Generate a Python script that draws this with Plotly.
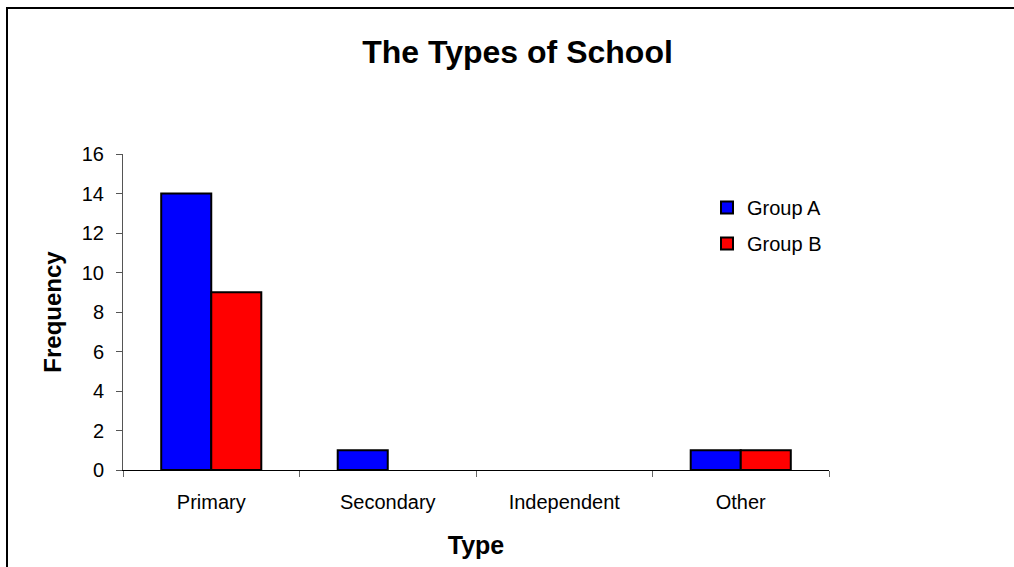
import plotly.graph_objects as go

categories = ["Primary", "Secondary", "Independent", "Other"]
group_a = [14, 1, 0, 1]
group_b = [9, 0, 0, 1]
y_ticks = [0, 2, 4, 6, 8, 10, 12, 14, 16]

FONT = "Liberation Sans, Arial, sans-serif"


def outline_widths(values):
    # zero-height bars are not outlined in the reference
    return [2 if v > 0 else 0 for v in values]


fig = go.Figure()
fig.add_trace(go.Bar(name="Group A", x=categories, y=group_a, legendgroup="a",
                     marker=dict(color="#0000FF",
                                 line=dict(color="#000000", width=outline_widths(group_a)))))
fig.add_trace(go.Bar(name="Group B", x=categories, y=group_b, legendgroup="b",
                     marker=dict(color="#FF0000",
                                 line=dict(color="#000000", width=outline_widths(group_b)))))

L, R, T, B = 123, 829, 154, 470
W, H = 1014, 567
pw, ph = R - L, B - T

fig.update_layout(
    width=W, height=H,
    margin=dict(l=L, r=W - R, t=T, b=H - B, autoexpand=False),
    paper_bgcolor="white", plot_bgcolor="white",
    font=dict(family=FONT, color="#000000", size=20),
    barmode="group", bargap=0.433, bargroupgap=0,
    title=dict(text="<b>The Types of School</b>", x=0.5104, xanchor="center",
               y=1 - 52 / H, yanchor="middle", font=dict(size=32, family=FONT)),
    legend=dict(x=(707 - L) / pw, y=1 - (188 - T) / ph, xanchor="left", yanchor="top",
                font=dict(size=20), traceorder="grouped", tracegroupgap=7,
                bgcolor="rgba(0,0,0,0)"),
    xaxis=dict(showline=True, linecolor="#000000", linewidth=1, ticks="outside",
               tickson="boundaries", ticklen=6, tickcolor="#666666",
               ticklabelstandoff=14,
               title=dict(text="<b>Type</b>", font=dict(size=25), standoff=24),
               showgrid=False),
    yaxis=dict(range=[0, 16], tickvals=y_ticks, showline=True, linecolor="#555555", linewidth=1,
               ticks="outside", ticklen=6, tickcolor="#555555", ticklabelstandoff=8,
               title=dict(text="<b>Frequency</b>", font=dict(size=24), standoff=13),
               showgrid=False, zeroline=False),
    shapes=[dict(type="rect", xref="paper", yref="paper",
                 x0=(7 - L) / pw, x1=(W + 20 - L) / pw,
                 y0=-(H + 20 - B) / ph, y1=1 + (T - 8) / ph,
                 line=dict(color="#000000", width=2), layer="below")],
)

fig.write_html("out.html")
